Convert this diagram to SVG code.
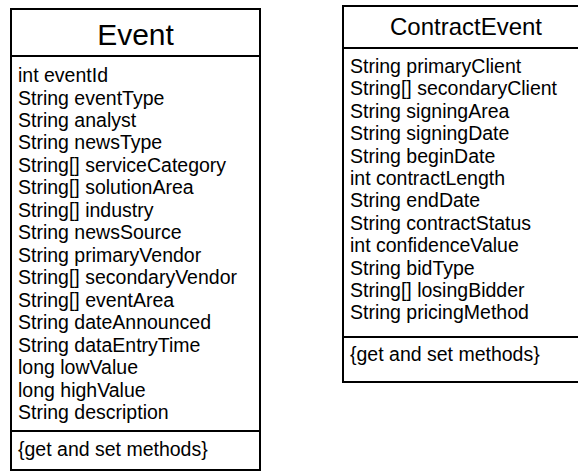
<svg xmlns="http://www.w3.org/2000/svg" width="578" height="472" viewBox="0 0 578 472">
<style>
.box{fill:#fff;stroke:#000;stroke-width:2}
.sep{stroke:#000;stroke-width:2}
.t{font-family:"Liberation Sans",Arial,sans-serif;fill:#000}
.attr{font-size:19.5px}
.title1{font-size:30px}
.title2{font-size:24px}
</style>
<rect width="578" height="472" fill="#fff"/>
<g id="Event">
<rect class="box" x="11" y="9" width="249" height="461"/>
<line class="sep" x1="11" y1="56" x2="260" y2="56"/>
<line class="sep" x1="11" y1="431" x2="260" y2="431"/>
<text class="t title1" x="135.5" y="45" text-anchor="middle">Event</text>
<text class="t attr" x="18">
<tspan x="18" y="82">int eventId</tspan>
<tspan x="18" y="104.5">String eventType</tspan>
<tspan x="18" y="127">String analyst</tspan>
<tspan x="18" y="149.4">String newsType</tspan>
<tspan x="18" y="171.9">String[] serviceCategory</tspan>
<tspan x="18" y="194.4">String[] solutionArea</tspan>
<tspan x="18" y="216.8">String[] industry</tspan>
<tspan x="18" y="239.3">String newsSource</tspan>
<tspan x="18" y="261.8">String primaryVendor</tspan>
<tspan x="18" y="284.2">String[] secondaryVendor</tspan>
<tspan x="18" y="306.7">String[] eventArea</tspan>
<tspan x="18" y="329.2">String dateAnnounced</tspan>
<tspan x="18" y="351.6">String dataEntryTime</tspan>
<tspan x="18" y="374.1">long lowValue</tspan>
<tspan x="18" y="396.6">long highValue</tspan>
<tspan x="18" y="419">String description</tspan>
</text>
<text class="t attr" x="18" y="456">{get and set methods}</text>
</g>
<g id="ContractEvent">
<rect class="box" x="343" y="6" width="246" height="376"/>
<line class="sep" x1="343" y1="48" x2="589" y2="48"/>
<line class="sep" x1="343" y1="337" x2="589" y2="337"/>
<text class="t title2" x="466" y="35" text-anchor="middle">ContractEvent</text>
<text class="t attr" x="350">
<tspan x="350" y="73">String primaryClient</tspan>
<tspan x="350" y="95.4">String[] secondaryClient</tspan>
<tspan x="350" y="117.8">String signingArea</tspan>
<tspan x="350" y="140.2">String signingDate</tspan>
<tspan x="350" y="162.6">String beginDate</tspan>
<tspan x="350" y="185">int contractLength</tspan>
<tspan x="350" y="207.4">String endDate</tspan>
<tspan x="350" y="229.8">String contractStatus</tspan>
<tspan x="350" y="252.2">int confidenceValue</tspan>
<tspan x="350" y="274.6">String bidType</tspan>
<tspan x="350" y="297">String[] losingBidder</tspan>
<tspan x="350" y="319.4">String pricingMethod</tspan>
</text>
<text class="t attr" x="350" y="361">{get and set methods}</text>
</g>
<g id="connectors"/>
</svg>
